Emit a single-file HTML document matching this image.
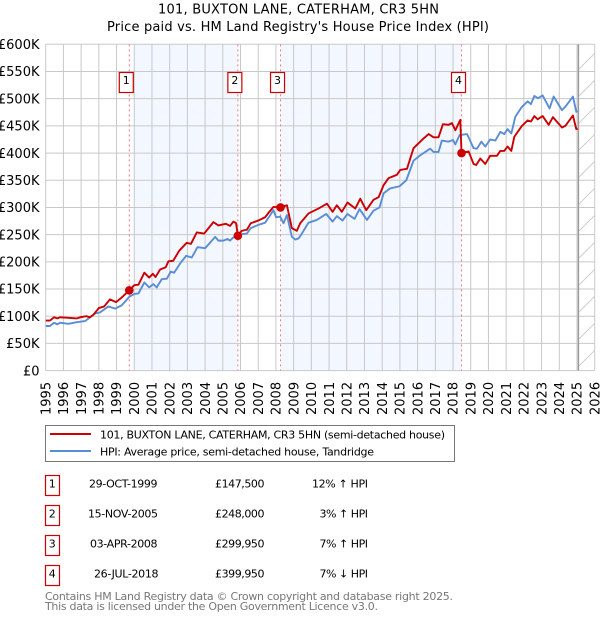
<!DOCTYPE html>
<html lang="en">
<head>
<meta charset="utf-8">
<title>101, BUXTON LANE, CATERHAM, CR3 5HN</title>
<style>
  html, body { margin: 0; padding: 0; background: #fff; }
  svg { display: block; font-family: "DejaVu Sans", "Liberation Sans", sans-serif; }
  text { fill: #000; }
</style>
</head>
<body>
<svg id="chart" xmlns="http://www.w3.org/2000/svg" width="600" height="620" viewBox="0 0 600 620">
  <defs>
    <pattern id="hatch" patternUnits="userSpaceOnUse" width="27" height="27">
      <path d="M-2 29 L29 -2 M-2 2 L2 -2 M25 29 L29 25" stroke="#cfcfcf" stroke-width="1" fill="none"/>
    </pattern>
    <clipPath id="plot-clip"><rect x="45" y="44" width="550" height="327"/></clipPath>
  </defs>

  <text x="158" y="13.5" font-size="13" textLength="281">101, BUXTON LANE, CATERHAM, CR3 5HN</text>
  <text x="107" y="31" font-size="13" textLength="382">Price paid vs. HM Land Registry's House Price Index (HPI)</text>

  <g id="shading"></g>
  <g id="grid"></g>
  <g id="forecast"></g>
  <g id="sale-lines"></g>
  <g id="series" clip-path="url(#plot-clip)"></g>
  <g id="sale-points"></g>
  <g id="sale-flags"></g>
  <g id="y-axis"></g>
  <g id="x-axis"></g>

  <g>
    <rect x="45.5" y="425.5" width="409" height="36" fill="#fff" stroke="#777" stroke-width="1"/>
    <g>
      <line x1="50" y1="434" x2="91" y2="434" stroke="#cc0000" stroke-width="2"/>
      <text x="100" y="438.3" font-size="11" textLength="345">101, BUXTON LANE, CATERHAM, CR3 5HN (semi-detached house)</text>
    </g>
    <g>
      <line x1="50" y1="451" x2="91" y2="451" stroke="#5b8dd6" stroke-width="2"/>
      <text x="100" y="455.3" font-size="11" textLength="274">HPI: Average price, semi-detached house, Tandridge</text>
    </g>
  </g>

  <g font-size="11">
    <g>
      <rect x="45.5" y="475.5" width="14" height="20" fill="#fff" stroke="#cc0000" stroke-width="1.2"/>
      <text x="52.3" y="487.5" text-anchor="middle">1</text>
      <text x="89" y="487.5" textLength="68.5">29-OCT-1999</text>
      <text x="215" y="487.5" textLength="49.5">£147,500</text>
      <text x="312" y="487.5" textLength="56">12% ↑ HPI</text>
    </g>
    <g>
      <rect x="45.5" y="505.5" width="14" height="20" fill="#fff" stroke="#cc0000" stroke-width="1.2"/>
      <text x="52.3" y="517.5" text-anchor="middle">2</text>
      <text x="88" y="517.5" textLength="70">15-NOV-2005</text>
      <text x="215" y="517.5" textLength="49.5">£248,000</text>
      <text x="319.5" y="517.5" textLength="48.5">3% ↑ HPI</text>
    </g>
    <g>
      <rect x="45.5" y="535.5" width="14" height="20" fill="#fff" stroke="#cc0000" stroke-width="1.2"/>
      <text x="52.3" y="547.5" text-anchor="middle">3</text>
      <text x="90" y="547.5" textLength="67.5">03-APR-2008</text>
      <text x="215" y="547.5" textLength="49.5">£299,950</text>
      <text x="319.5" y="547.5" textLength="48.5">7% ↑ HPI</text>
    </g>
    <g>
      <rect x="45.5" y="565.5" width="14" height="20" fill="#fff" stroke="#cc0000" stroke-width="1.2"/>
      <text x="52.3" y="577.5" text-anchor="middle">4</text>
      <text x="94" y="577.5" textLength="64.5">26-JUL-2018</text>
      <text x="215" y="577.5" textLength="49.5">£399,950</text>
      <text x="319.5" y="577.5" textLength="48.5">7% ↓ HPI</text>
    </g>
  </g>

  <text x="45" y="600" font-size="11" style="fill:#777" textLength="408">Contains HM Land Registry data © Crown copyright and database right 2025.</text>
  <text x="45" y="610" font-size="11" style="fill:#777" textLength="333">This data is licensed under the Open Government Licence v3.0.</text>

<script>
const yTickValues = [0, 50, 100, 150, 200, 250, 300, 350, 400, 450, 500, 550, 600];
const yTickLabels = ['£0', '£50K', '£100K', '£150K', '£200K', '£250K', '£300K', '£350K', '£400K', '£450K', '£500K', '£550K', '£600K'];
const xTickYears = [1995, 1996, 1997, 1998, 1999, 2000, 2001, 2002, 2003, 2004, 2005, 2006, 2007, 2008, 2009, 2010, 2011, 2012, 2013, 2014, 2015, 2016, 2017, 2018, 2019, 2020, 2021, 2022, 2023, 2024, 2025, 2026];

const priceDates = [1995, 1995.24, 1995.47, 1995.66, 1995.81, 1996.28, 1996.75, 1997, 1997.3, 1997.5, 1997.7, 1998, 1998.3, 1998.63, 1998.97, 1999.24, 1999.72, 2000, 2000.24, 2000.57, 2000.84, 2001.05, 2001.2, 2001.46, 2001.78, 2001.93, 2002.2, 2002.53, 2002.96, 2003.2, 2003.53, 2003.95, 2004.47, 2004.75, 2005.17, 2005.41, 2005.6, 2005.75, 2005.85, 2006.07, 2006.36, 2006.58, 2007.01, 2007.39, 2007.58, 2007.86, 2008.26, 2008.62, 2008.9, 2009.18, 2009.37, 2009.84, 2010.4, 2010.88, 2011.2, 2011.44, 2011.72, 2012.04, 2012.48, 2012.76, 2013.1, 2013.51, 2013.8, 2014.08, 2014.36, 2014.83, 2015.02, 2015.4, 2015.77, 2016.24, 2016.62, 2016.9, 2017.18, 2017.43, 2017.75, 2017.94, 2018.13, 2018.41, 2018.48, 2018.88, 2019.16, 2019.31, 2019.54, 2019.82, 2020.1, 2020.48, 2020.67, 2020.89, 2021.08, 2021.29, 2021.46, 2021.89, 2022.21, 2022.4, 2022.59, 2022.78, 2023.06, 2023.4, 2023.64, 2024.15, 2024.34, 2024.77, 2024.96, 2025.04];
const priceValues = [92, 92, 98, 96, 98, 97, 96, 98.5, 100, 98, 103, 115, 118, 131, 126, 133, 147.5, 157, 158, 180, 171, 178, 172, 186, 190, 201, 202, 220, 235, 233, 254, 252, 273, 267, 270, 266, 274, 271, 248, 257, 259, 271, 276, 282, 290, 301, 300, 304, 262, 257, 271, 289, 298, 307, 292, 304, 292, 309, 298, 316, 295, 314, 319, 341, 354, 360, 369, 371, 409, 424, 435, 429, 429, 453, 452, 455, 442, 461, 400, 403, 380, 378, 390, 380, 395, 395, 404, 404, 412, 404, 430, 450, 460, 458, 468, 462, 468, 452, 466, 447, 450, 469, 444, 445];

const hpiDates = [1995, 1995.24, 1995.47, 1995.66, 1995.81, 1996.28, 1996.75, 1997.22, 1997.79, 1998.07, 1998.54, 1998.92, 1999.29, 1999.73, 2000, 2000.24, 2000.57, 2000.84, 2001.08, 2001.27, 2001.55, 2001.84, 2002.06, 2002.25, 2002.59, 2002.93, 2003.25, 2003.57, 2004, 2004.57, 2004.75, 2005.04, 2005.26, 2005.41, 2005.6, 2006.07, 2006.36, 2006.58, 2007.01, 2007.39, 2007.64, 2007.86, 2008.01, 2008.24, 2008.43, 2008.62, 2008.9, 2009.09, 2009.27, 2009.37, 2009.84, 2010.31, 2010.84, 2011.2, 2011.44, 2011.76, 2012.04, 2012.44, 2012.72, 2013.14, 2013.51, 2013.85, 2014.08, 2014.45, 2014.98, 2015.36, 2015.77, 2016.15, 2016.71, 2016.9, 2017.18, 2017.37, 2017.75, 2018, 2018.13, 2018.37, 2018.79, 2019.16, 2019.35, 2019.6, 2019.82, 2020.1, 2020.39, 2020.67, 2020.89, 2021.08, 2021.29, 2021.52, 2021.89, 2022.21, 2022.4, 2022.59, 2022.8, 2023.06, 2023.45, 2023.68, 2024.15, 2024.34, 2024.77, 2024.96, 2025.04];
const hpiValues = [82, 82, 88, 85, 88, 86, 89, 91, 105, 107, 118, 114, 120, 136, 141, 142, 162, 153, 159, 153, 168, 169, 182, 180, 197, 211, 208, 227, 225, 246, 239, 239, 242, 239, 245, 251, 252, 262, 268, 272, 284, 295, 282, 283, 271, 286, 246, 241, 243, 247, 272, 277, 288, 274, 284, 276, 288, 279, 297, 277, 294, 300, 326, 335, 339, 350, 386, 396, 408, 402, 402, 423, 421, 424, 416, 433, 435, 409, 408, 421, 412, 425, 423, 439, 435, 444, 436, 467, 485, 495, 490, 505, 501, 506, 482, 504, 479, 485, 504, 476, 477];

const saleNumbers = ['1', '2', '3', '4'];
const saleDates = [1999.72, 2005.85, 2008.26, 2018.48];
const salePrices = [147.5, 248, 299.95, 399.95];
const shadedPeriodStarts = [2000, 2008.26];
const shadedPeriodEnds = [2005.85, 2018.48];
const lastDataDate = 2025.08;

const X0 = 45.7, X_PER_YEAR = 17.71, Y0 = 370.6, Y_PER_K = 326.3 / 600;
const PLOT_TOP = 44.4, PLOT_BOTTOM = 370.6, PLOT_LEFT = 45.7, PLOT_RIGHT = 594.5;
function xScale(year) { return X0 + (year - 1995) * X_PER_YEAR; }
function yScale(value) { return Y0 - value * Y_PER_K; }
function make(tag, attrs, parent) {
  const el = document.createElementNS('http://www.w3.org/2000/svg', tag);
  for (const key in attrs) el.setAttribute(key, attrs[key]);
  parent.appendChild(el);
  return el;
}
const gShade = document.getElementById('shading');
const gGrid = document.getElementById('grid');
const gForecast = document.getElementById('forecast');
const gSaleLines = document.getElementById('sale-lines');
const gSeries = document.getElementById('series');
const gPoints = document.getElementById('sale-points');
const gFlags = document.getElementById('sale-flags');
const gY = document.getElementById('y-axis');
const gX = document.getElementById('x-axis');

shadedPeriodStarts.forEach(function (start, i) {
  const band = make('rect', { x: xScale(start), y: PLOT_TOP, width: xScale(shadedPeriodEnds[i]) - xScale(start), height: PLOT_BOTTOM - PLOT_TOP, fill: '#f3f7ff' }, gShade);
  
  
});

yTickValues.forEach(function (value, i) {
  const y = yScale(value);
  const line = make('line', { x1: PLOT_LEFT, x2: PLOT_RIGHT, y1: y, y2: y, stroke: '#c8c8c8', 'stroke-width': 1 }, gGrid);
  
  
  const label = make('text', { x: 39.5, y: y + 4.7, 'font-size': 13, 'text-anchor': 'end' }, gY);
  
  
  label.textContent = yTickLabels[i];
});

xTickYears.forEach(function (year) {
  const x = xScale(year);
  const line = make('line', { x1: x, x2: x, y1: PLOT_TOP, y2: PLOT_BOTTOM, stroke: '#c8c8c8', 'stroke-width': 1 }, gGrid);
  
  
  const label = make('text', { x: 0, y: 0, 'font-size': 13, 'text-anchor': 'start', transform: 'translate(' + (x + 4.7) + ',415) rotate(-90)' }, gX);
  
  
  label.textContent = year;
});

const hatchRect = make('rect', { x: xScale(lastDataDate), y: PLOT_TOP, width: PLOT_RIGHT - xScale(lastDataDate), height: PLOT_BOTTOM - PLOT_TOP, fill: 'url(#hatch)' }, gForecast);


const endLine = make('line', { x1: xScale(lastDataDate), x2: xScale(lastDataDate), y1: PLOT_TOP, y2: PLOT_BOTTOM, stroke: '#999', 'stroke-width': 1.4 }, gForecast);



saleDates.forEach(function (date) {
  const line = make('line', { x1: xScale(date), x2: xScale(date), y1: PLOT_TOP, y2: PLOT_BOTTOM, stroke: '#f07880', 'stroke-width': 1, 'stroke-dasharray': '2 3' }, gSaleLines);
  
  
});

function pathFrom(dates, values) {
  return dates.map(function (d, i) { return (i ? 'L' : 'M') + xScale(d).toFixed(2) + ' ' + yScale(values[i]).toFixed(2); }).join(' ');
}
const hpiLine = make('path', { d: pathFrom(hpiDates, hpiValues), fill: 'none', stroke: '#5b8dd6', 'stroke-width': 1.9, 'stroke-linejoin': 'round' }, gSeries);


const priceLine = make('path', { d: pathFrom(priceDates, priceValues), fill: 'none', stroke: '#cc0000', 'stroke-width': 1.9, 'stroke-linejoin': 'round' }, gSeries);



saleDates.forEach(function (date, i) {
  const dot = make('circle', { cx: xScale(date), cy: yScale(salePrices[i]), r: 4.3, fill: '#cc0000' }, gPoints);
  
  
  const cx = xScale(date) - 3;
  const flag = make('rect', { x: cx - 7, y: 72.5, width: 14, height: 20, fill: '#fff', stroke: '#cc0000', 'stroke-width': 1.2 }, gFlags);
  
  
  const num = make('text', { x: cx, y: 84, 'font-size': 11, 'text-anchor': 'middle' }, gFlags);
  
  
  num.textContent = saleNumbers[i];
});
</script>
</svg>
</body>
</html>
